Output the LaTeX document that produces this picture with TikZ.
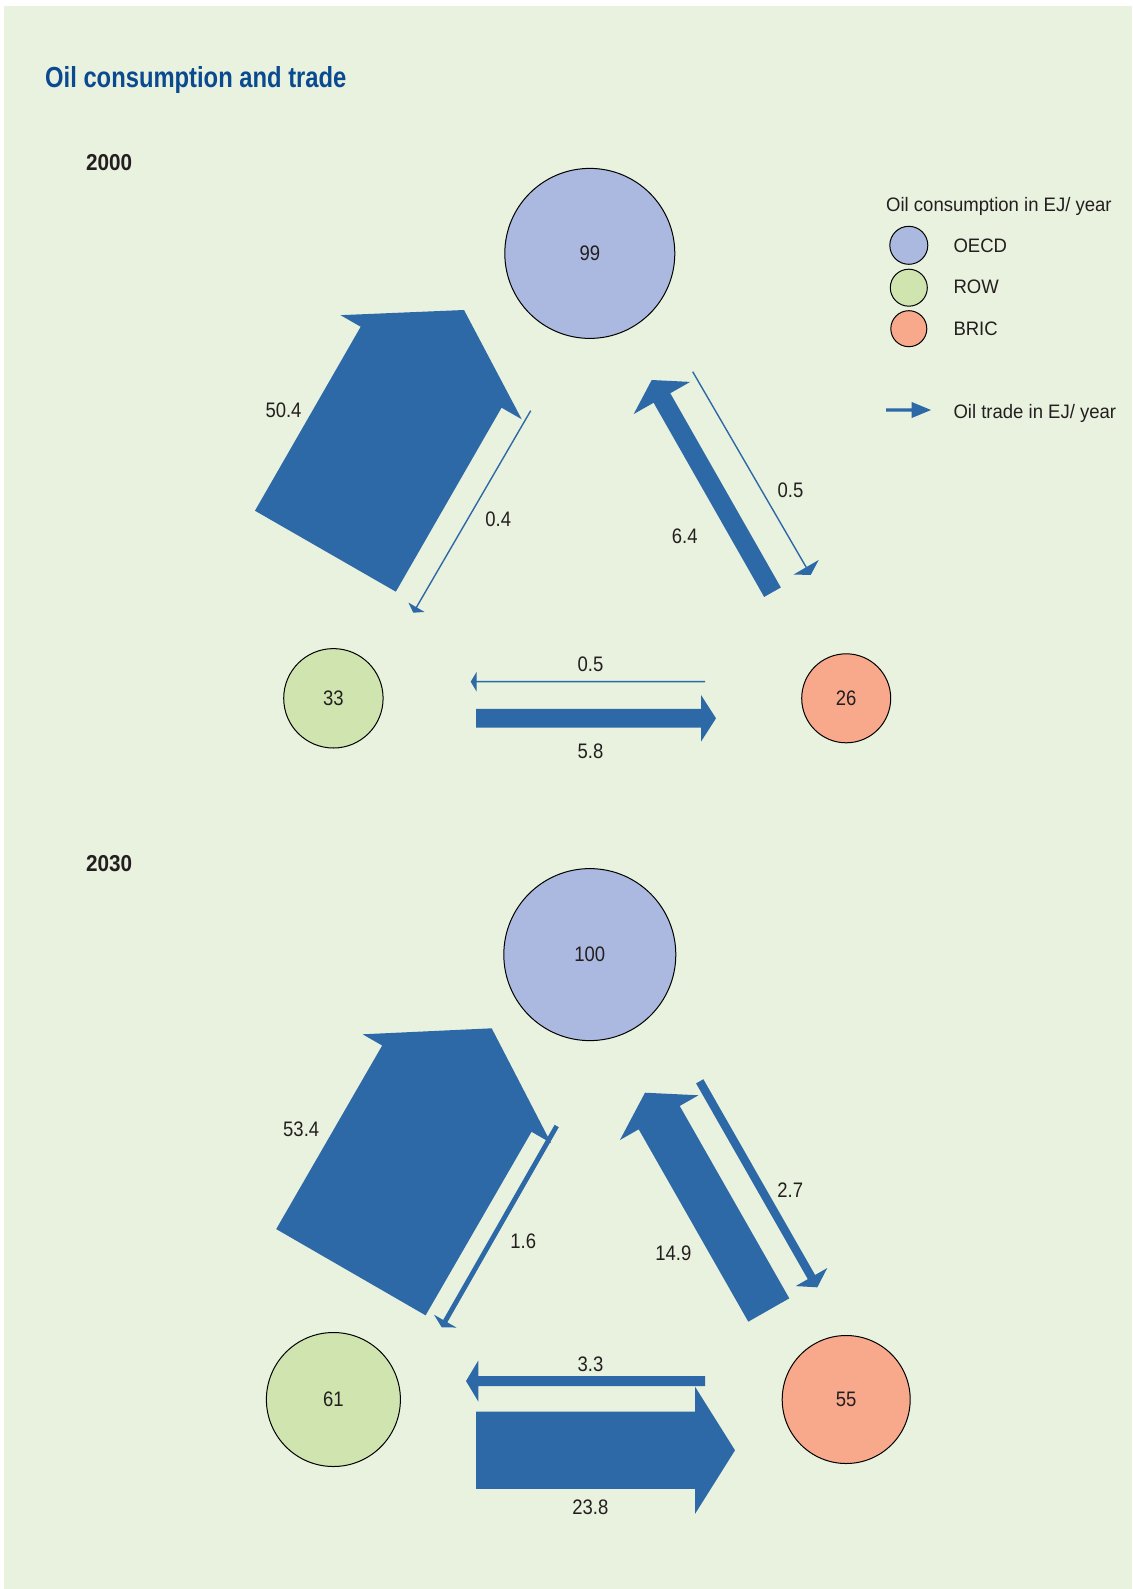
\documentclass[tikz,border=0pt]{standalone}
\usepackage{fontspec}
\setmainfont{Liberation Sans}
\newfontfamily\numfont[FakeStretch=0.88]{Liberation Sans}
\newfontfamily\legfont[FakeStretch=0.95]{Liberation Sans}
\newfontfamily\ttlfont[FakeStretch=0.82]{Liberation Sans}
\newfontfamily\yrfont[FakeStretch=0.9]{Liberation Sans}
\usetikzlibrary{calc}
\definecolor{bgc}{RGB}{233,242,222}
\definecolor{oecdc}{RGB}{171,184,224}
\definecolor{rowc}{RGB}{208,228,176}
\definecolor{bricc}{RGB}{248,169,140}
\definecolor{tradeblue}{RGB}{45,105,166}
\definecolor{titleblue}{RGB}{10,74,144}
\definecolor{txt}{RGB}{35,31,32}
\newcommand\fatarrow[6]{%
  \coordinate (#1b) at ($(#3)!#6!(#2)$);
  \fill[tradeblue] ($(#2)!#4!90:(#3)$) -- ($(#1b)!#4!90:(#3)$) -- ($(#1b)!#5!90:(#3)$) -- (#3)
    -- ($(#1b)!#5!-90:(#3)$) -- ($(#1b)!#4!-90:(#3)$) -- ($(#2)!#4!-90:(#3)$) -- cycle;
}
\tikzset{
  circ/.style={circle,draw=black,line width=1pt,inner sep=0pt,text=txt,
    font=\numfont\fontsize{21pt}{25pt}\selectfont},
  numlbl/.style={inner sep=0pt,text=txt,font=\numfont\fontsize{21pt}{25pt}\selectfont},
  leglbl/.style={inner sep=0pt,anchor=base west,text=txt,font=\legfont\fontsize{19.5pt}{23pt}\selectfont},
  yearlbl/.style={inner sep=0pt,anchor=base west,text=txt,font=\yrfont\bfseries\fontsize{23pt}{27pt}\selectfont},
  titlelbl/.style={inner sep=0pt,anchor=base west,text=titleblue,font=\ttlfont\bfseries\fontsize{29pt}{33pt}\selectfont}
}
\begin{document}
\begin{tikzpicture}[x=1pt,y=-1pt]
\fill[white] (0,0) rectangle (1132,1589);
\fill[bgc] (4,6) rectangle (1132,1589);
\useasboundingbox (0,0) rectangle (1132,1589);

\node[titlelbl] (title) at (45,87.3) {Oil consumption and trade};
\node[yearlbl] (y2000) at (86,170.7) {2000};
\node[yearlbl] (y2030) at (86,871) {2030};

% legend
\node[leglbl] (legt) at (886,211.7) {Oil consumption in EJ/ year};
\node[circ,fill=oecdc,minimum size=38pt] (lgo) at (908.8,245.3) {};
\node[circ,fill=rowc,minimum size=37pt] (lgr) at (908.8,287.7) {};
\node[circ,fill=bricc,minimum size=36pt] (lgb) at (908.8,328.7) {};
\node[leglbl] (lgot) at (953.3,252.7) {OECD};
\node[leglbl] (lgrt) at (953.3,293.3) {ROW};
\node[leglbl] (lgbt) at (953.3,335) {BRIC};
\coordinate (lgat) at (886,410);
\coordinate (lgah) at (931,410);
\fatarrow{lga}{lgat}{lgah}{1.6pt}{8pt}{19.3pt}
\node[leglbl] (lgtt) at (953.3,418.3) {Oil trade in EJ/ year};

% 2000
\node[circ,fill=oecdc,minimum size=170pt] (oecdA) at (589.8,253.4) {99};
\node[circ,fill=rowc,minimum size=99.4pt] (rowA) at (333.4,698.3) {33};
\node[circ,fill=bricc,minimum size=89pt] (bricA) at (846.2,698.3) {26};

\coordinate (a1t) at (325.4,551.2); \coordinate (a1h) at (464,310);
\fatarrow{a1}{a1t}{a1h}{81.25pt}{104.5pt}{66pt}
\coordinate (a2t) at (530.7,410.7); \coordinate (a2h) at (413.3,612.7);
\fatarrow{a2}{a2t}{a2h}{0.7pt}{9.3pt}{6.3pt}
\coordinate (a3t) at (772.5,592.2); \coordinate (a3h) at (651.7,380);
\fatarrow{a3}{a3t}{a3h}{9.6pt}{32.5pt}{20.7pt}
\coordinate (a4t) at (692.7,371.7); \coordinate (a4h) at (810.7,575);
\fatarrow{a4}{a4t}{a4h}{0.7pt}{14.5pt}{9pt}
\coordinate (a5t) at (705,681.7); \coordinate (a5h) at (470.7,681.7);
\fatarrow{a5}{a5t}{a5h}{0.75pt}{10pt}{6pt}
\coordinate (a6t) at (476,718.3); \coordinate (a6h) at (716,718.3);
\fatarrow{a6}{a6t}{a6h}{9.35pt}{23.35pt}{15pt}

\node[numlbl] (l504) at (283.5,410.5) {50.4};
\node[numlbl] (l04) at (498.3,519.5) {0.4};
\node[numlbl] (l05r) at (790.5,490.3) {0.5};
\node[numlbl] (l64) at (684.7,536.7) {6.4};
\node[numlbl] (l05h) at (590.5,664.7) {0.5};
\node[numlbl] (l58) at (590.5,751) {5.8};

% 2030
\node[circ,fill=oecdc,minimum size=172pt] (oecdB) at (589.8,954.6) {100};
\node[circ,fill=rowc,minimum size=134pt] (rowB) at (333.4,1399.5) {61};
\node[circ,fill=bricc,minimum size=128pt] (bricB) at (846.2,1399.5) {55};

\coordinate (b1t) at (350.9,1272.2); \coordinate (b1h) at (491.7,1028.3);
\fatarrow{b1}{b1t}{b1h}{86.25pt}{108.75pt}{69.7pt}
\coordinate (b2t) at (556.7,1126); \coordinate (b2h) at (441.7,1327.3);
\fatarrow{b2}{b2t}{b2h}{2.4pt}{12.9pt}{7.1pt}
\coordinate (b3t) at (768.8,1310); \coordinate (b3h) at (645,1092.7);
\fatarrow{b3}{b3t}{b3h}{23.6pt}{45.2pt}{28.7pt}
\coordinate (b4t) at (699.7,1081.3); \coordinate (b4h) at (817.3,1287.3);
\fatarrow{b4}{b4t}{b4h}{4.2pt}{18.2pt}{11.8pt}
\coordinate (b5t) at (705,1381); \coordinate (b5h) at (466,1381);
\fatarrow{b5}{b5t}{b5h}{5pt}{20.5pt}{12.3pt}
\coordinate (b6t) at (476,1450.3); \coordinate (b6h) at (735,1450.3);
\fatarrow{b6}{b6t}{b6h}{38.65pt}{63.65pt}{40pt}

\node[numlbl] (l534) at (301.2,1129.5) {53.4};
\node[numlbl] (l16) at (523.3,1241.3) {1.6};
\node[numlbl] (l27) at (790.2,1190.2) {2.7};
\node[numlbl] (l149) at (673.3,1253) {14.9};
\node[numlbl] (l33) at (590.5,1364.5) {3.3};
\node[numlbl] (l238) at (590.3,1507.5) {23.8};
\end{tikzpicture}
\end{document}
